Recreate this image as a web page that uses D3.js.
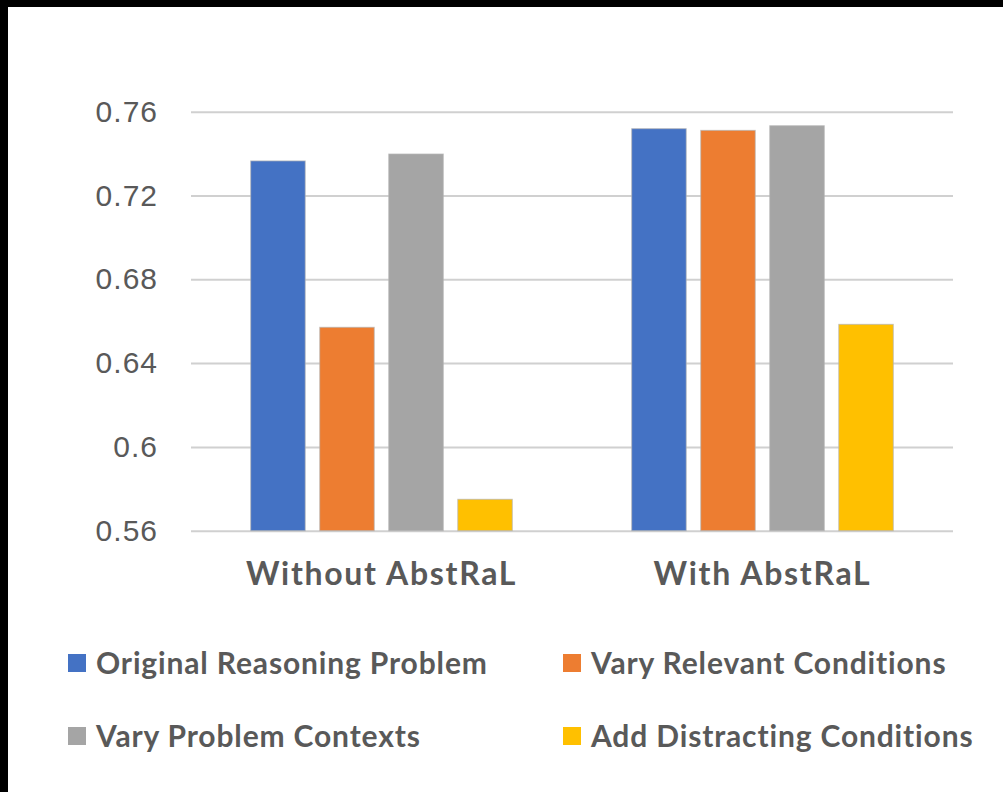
<!DOCTYPE html>
<html>
<head>
<meta charset="utf-8">
<script src="https://cdn.jsdelivr.net/npm/d3@7"></script>
<style>
  html, body { margin: 0; padding: 0; background: #fff; }
  svg { display: block; }
</style>
</head>
<body>
<svg id="chart" width="1003" height="792"></svg>
<script>
// ---- data ----
const groups = ["Without AbstRaL", "With AbstRaL"];
const seriesNames = ["Original Reasoning Problem", "Vary Relevant Conditions", "Vary Problem Contexts", "Add Distracting Conditions"];
const seriesColors = ["#4472C4", "#ED7D31", "#A5A5A5", "#FFC000"];
const originalValues = [0.7365, 0.7519];
const relevantValues = [0.6571, 0.7511];
const contextValues = [0.7398, 0.7533];
const distractValues = [0.5750, 0.6585];
const yTicks = [0.56, 0.60, 0.64, 0.68, 0.72, 0.76];
const yTickLabels = ["0.56", "0.6", "0.64", "0.68", "0.72", "0.76"];

const seriesValues = [originalValues, relevantValues, contextValues, distractValues];

// ---- layout ----
const svg = d3.select("#chart");
const W = 1003, H = 792;
const plot = { left: 191, right: 953, top: 111.7, bottom: 530.7 };
const textColor = "#595959";

svg.append("rect").attr("x", 0).attr("y", 0).attr("width", W).attr("height", H).attr("fill", "#fff");
// black frame strips (top & left) as in the reference screenshot
svg.append("rect").attr("x", 0).attr("y", 0).attr("width", W).attr("height", 7).attr("fill", "#000");
svg.append("rect").attr("x", 0).attr("y", 0).attr("width", 8).attr("height", H).attr("fill", "#000");

const y = d3.scaleLinear().domain([0.56, 0.76]).range([plot.bottom, plot.top]);
const x0 = d3.scaleBand().domain(groups).range([plot.left, plot.right]).padding(0);
const x1 = d3.scaleBand().domain(seriesNames)
  .range([59.7, x0.bandwidth() - 59.7]).paddingInner(0.21).paddingOuter(0);

// y axis with gridlines
const yAxis = d3.axisLeft(y)
  .tickValues(yTicks)
  .tickFormat((d, i) => yTickLabels[i])
  .tickSize(-(plot.right - plot.left))
  .tickPadding(33);

const gy = svg.append("g").attr("transform", `translate(${plot.left},0)`).call(yAxis);
gy.select(".domain").remove();
gy.selectAll(".tick line").attr("stroke", "#d0d0d0").attr("stroke-width", 2);
gy.selectAll(".tick text")
  .attr("fill", textColor)
  .style("font-family", "'Liberation Sans', Arial, Helvetica, sans-serif")
  .style("font-size", "30px")
  .style("letter-spacing", "1px");

// bars
const barData = [];
groups.forEach((g, gi) => {
  seriesNames.forEach((s, si) => {
    barData.push({ group: g, series: s, color: seriesColors[si], value: seriesValues[si][gi] });
  });
});

svg.append("g").selectAll("rect")
  .data(barData)
  .join("rect")
  .attr("x", d => x0(d.group) + x1(d.series))
  .attr("y", d => y(d.value))
  .attr("width", x1.bandwidth())
  .attr("height", d => y(0.56) - y(d.value))
  .attr("fill", d => d.color)
  .attr("stroke", "rgba(180,180,180,0.7)")
  .attr("stroke-width", 1);

// x axis labels
const xAxis = d3.axisBottom(x0).tickSize(0).tickPadding(32);
const gx = svg.append("g").attr("transform", `translate(0,${plot.bottom})`).call(xAxis);
gx.select(".domain").remove();
gx.selectAll(".tick text")
  .attr("fill", textColor)
  .style("font-family", "Lato, 'Open Sans', sans-serif")
  .style("font-weight", "700")
  .style("font-size", "32px")
  .style("letter-spacing", "1.7px");

// legend
const legendPos = [
  { x: 68, y: 654 },
  { x: 563, y: 654 },
  { x: 68, y: 727 },
  { x: 563, y: 727 }
];
const order = [0, 1, 2, 3];
const lg = svg.append("g");
order.forEach((si, k) => {
  const p = legendPos[k];
  lg.append("rect").attr("x", p.x).attr("y", p.y).attr("width", 18).attr("height", 18)
    .attr("fill", seriesColors[si]);
  lg.append("text")
    .attr("x", p.x + 28).attr("y", p.y + 19.5)
    .attr("fill", textColor)
    .style("font-family", "Lato, 'Open Sans', sans-serif")
    .style("font-weight", "700")
    .style("font-size", "30px")
    .style("letter-spacing", "0.85px")
    .text(seriesNames[si]);
});
</script>
</body>
</html>
